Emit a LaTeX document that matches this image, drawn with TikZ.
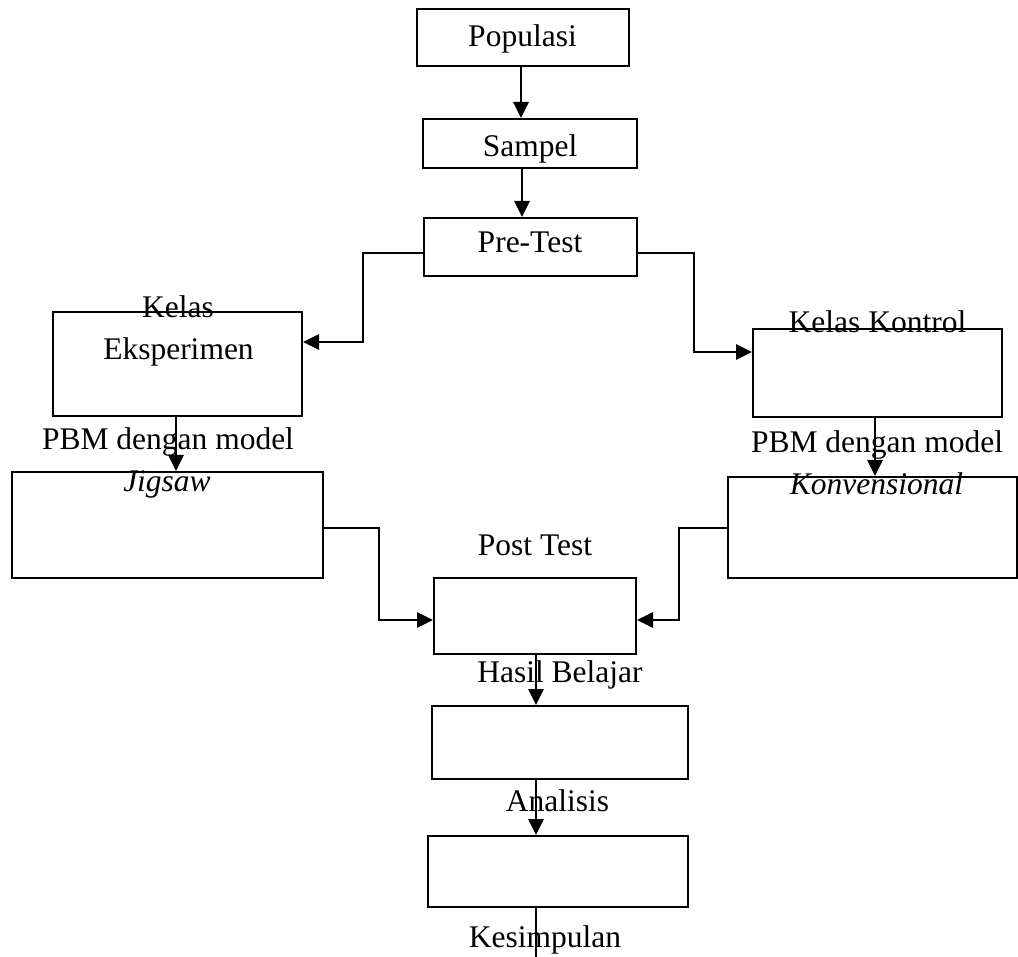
\documentclass[tikz,border=0pt]{standalone}
\usepackage{fontspec}
\setmainfont{Liberation Serif}
\usetikzlibrary{arrows.meta}
\begin{document}
\begin{tikzpicture}[x=1pt,y=-1pt,
  box/.style={draw,line width=2pt,inner sep=0pt,anchor=center},
  lbl/.style={inner sep=0pt,anchor=base,font=\fontsize{31.5}{36}\selectfont},
  conn/.style={line width=2.8pt},
  arr/.style={conn,-{Triangle[length=16pt,width=15pt]}}]
\useasboundingbox (0,0) rectangle (1018,957);
% boxes
\node[box,minimum width=212pt,minimum height=57pt] (pop) at (523,37.5) {};
\node[box,minimum width=214pt,minimum height=49pt] (sam) at (530,143.5) {};
\node[box,minimum width=213pt,minimum height=58pt] (pre) at (530.5,247) {};
\node[box,minimum width=249pt,minimum height=104pt] (eks) at (177.5,364) {};
\node[box,minimum width=249pt,minimum height=88pt] (kon) at (877.5,373) {};
\node[box,minimum width=311pt,minimum height=106pt] (jig) at (167.5,525) {};
\node[box,minimum width=289pt,minimum height=101pt] (konv) at (872.5,527.5) {};
\node[box,minimum width=202pt,minimum height=76pt] (post) at (535,616) {};
\node[box,minimum width=256pt,minimum height=73pt] (hasil) at (560,742.5) {};
\node[box,minimum width=260pt,minimum height=71pt] (anal) at (558,871.5) {};
% texts
\node[lbl] (tpop) at (522.5,47) {Populasi};
\node[lbl] (tsam) at (530,157) {Sampel};
\node[lbl] (tpre) at (530,253) {Pre-Test};
\node[lbl] (tkelas) at (178,318) {Kelas};
\node[lbl] (teks) at (178.5,360) {Eksperimen};
\node[lbl] (tpbm1) at (168,450) {PBM dengan model};
\node[lbl] (tjig) at (167,492) {\itshape Jigsaw};
\node[lbl] (tkon) at (877.5,333) {Kelas Kontrol};
\node[lbl] (tpbm2) at (877,453) {PBM dengan model};
\node[lbl] (tkonv) at (876.5,495) {\itshape Konvensional};
\node[lbl] (tpost) at (535,555) {Post Test};
\node[lbl] (thasil) at (560,682) {Hasil Belajar};
\node[lbl] (tanal) at (557.5,811) {Analisis};
\node[lbl] (tkes) at (545,947) {Kesimpulan};
% connectors
\draw[arr] (521,0 |- pop.south) -- (521,0 |- sam.north);
\draw[arr] (522,0 |- sam.south) -- (522,0 |- pre.north);
\draw[arr] (pre.west |- 0,253) -- (363,253) -- (363,342) -- (eks.east |- 0,342);
\draw[arr] (pre.east |- 0,253) -- (694,253) -- (694,352) -- (kon.west |- 0,352);
\draw[arr] (176,0 |- eks.south) -- (176,0 |- jig.north);
\draw[arr] (875,0 |- kon.south) -- (875,0 |- konv.north);
\draw[arr] (jig.east |- 0,528) -- (379,528) -- (379,620) -- (post.west |- 0,620);
\draw[arr] (konv.west |- 0,528) -- (679,528) -- (679,620) -- (post.east |- 0,620);
\draw[arr] (536,0 |- post.south) -- (536,0 |- hasil.north);
\draw[arr] (536,0 |- hasil.south) -- (536,0 |- anal.north);
\coordinate (end) at (536,957);
\draw[conn] (536,0 |- anal.south) -- (end);
\end{tikzpicture}
\end{document}
